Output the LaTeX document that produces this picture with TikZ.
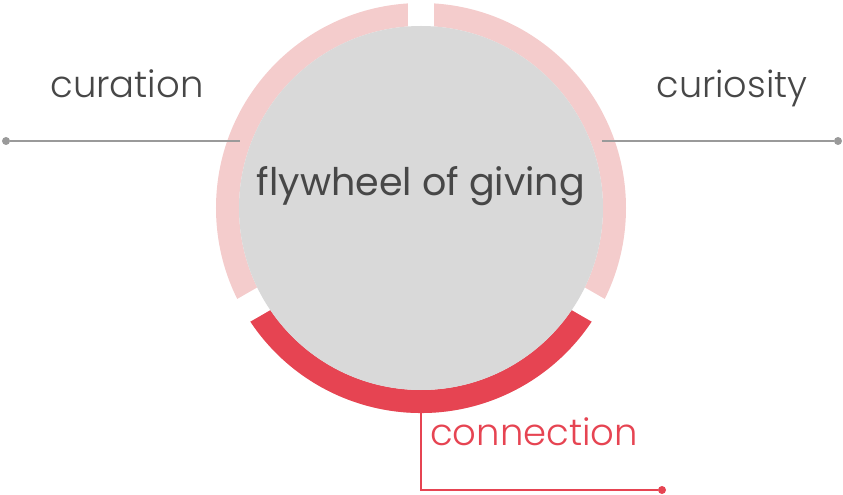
\documentclass[tikz,border=0pt]{standalone}
\usepackage{fontspec}
\setmainfont{Poppins}
\newfontfamily\lightfont{Poppins Light}
\usetikzlibrary{positioning}

\definecolor{wheelgray}{HTML}{D9D9D9}
\definecolor{ringpink}{HTML}{F4CCCC}
\definecolor{ringred}{HTML}{E64452}
\definecolor{leadgray}{HTML}{9A9A9A}
\definecolor{textgray}{HTML}{474747}

\begin{document}
\begin{tikzpicture}[x=1pt, y=1pt]
\useasboundingbox (-421, -287) rectangle (422, 208);

% ring, red part and the three cuts
\draw[ringpink, line width=23pt] (0, 0) circle (193.5);
\draw[ringred, line width=23pt] (210:193.5) arc (210:330:193.5);
\foreach \a in {90, 210, 330}
  \draw[white, line width=26pt] (0, 0) -- (\a:230);

\node[circle, fill=wheelgray, minimum size=364pt, inner sep=0pt] (wheel) at (0, 0) {};
\node[anchor=base, text=textgray, font=\fontsize{38}{40}\selectfont] (title) at (0, 12) {flywheel of giving};

% left and right leads
\coordinate (lend) at (-181, 67);
\coordinate (rend) at (181, 67);
\node[circle, fill=leadgray, inner sep=0pt, minimum size=8pt] (ldot) at (-415, 67) {};
\node[circle, fill=leadgray, inner sep=0pt, minimum size=8pt] (rdot) at (417, 67) {};
\draw[leadgray, line width=2pt] (ldot) -- (lend);
\draw[leadgray, line width=2pt] (rend) -- (rdot);
\node[anchor=base, text=textgray, font=\lightfont\fontsize{37}{40}\selectfont] (curation) at (-294, 110) {curation};
\node[anchor=base, text=textgray, font=\lightfont\fontsize{36.6}{40}\selectfont] (curiosity) at (311, 110) {curiosity};

% bottom lead
\coordinate (cstart) at (0, -205);
\coordinate (ccorner) at (0, -282);
\node[circle, fill=ringred, inner sep=0pt, minimum size=8pt] (cdot) at (241, -282) {};
\draw[ringred, line width=2pt] (cstart) -- (ccorner) -- (cdot);
\node[anchor=base west, inner sep=0pt, text=ringred, font=\lightfont\fontsize{37}{40}\selectfont] (connection) at (9, -237) {connection};
\end{tikzpicture}
\end{document}
